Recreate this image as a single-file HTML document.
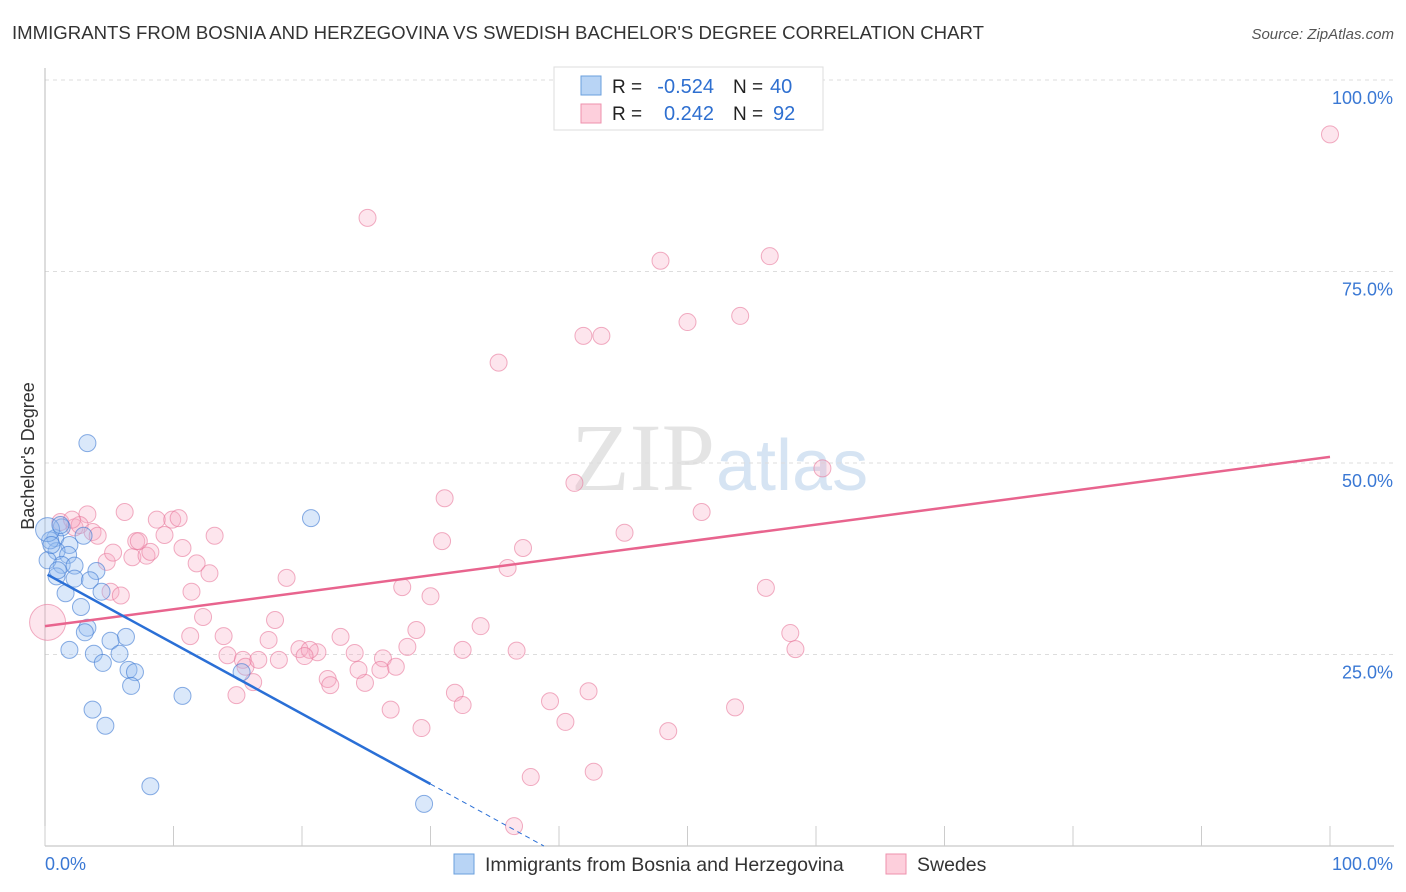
<!DOCTYPE html>
<html><head><meta charset="utf-8"><style>
body{margin:0;background:#fff;font-family:"Liberation Sans",sans-serif;}
#wrap{position:relative;width:1406px;height:892px;overflow:hidden;}
</style></head><body>
<div id="wrap">
<svg id="chart" width="1406" height="892" xmlns="http://www.w3.org/2000/svg">
<text x="12" y="39" font-size="18.6" fill="#333">IMMIGRANTS FROM BOSNIA AND HERZEGOVINA VS SWEDISH BACHELOR'S DEGREE CORRELATION CHART</text>
<text x="1394" y="39" font-size="15" fill="#555" font-style="italic" text-anchor="end">Source: ZipAtlas.com</text>
<text x="715" y="490" font-size="96" fill="#e4e4e4" font-family="Liberation Serif,serif" text-anchor="end">ZIP</text>
<text x="716" y="490" font-size="72" fill="#d6e4f3">atlas</text>
<g id="grid"></g>
<g id="axes"></g>
<g id="pts"></g>
<g id="lines"></g>
<text transform="translate(34,456) rotate(-90)" font-size="18" fill="#333" text-anchor="middle">Bachelor's Degree</text>
<g>
<rect x="554" y="67" width="269" height="63" fill="#fff" stroke="#ddd"/>
<rect x="581" y="76" width="20" height="19" fill="#b8d4f5" stroke="#6a9fdd"/>
<rect x="581" y="104" width="20" height="19" fill="#fdcfdc" stroke="#ee91ad"/>
<text x="612" y="93" font-size="19" fill="#222">R =</text>
<text x="714" y="93" font-size="20" fill="#2e6fd0" text-anchor="end">-0.524</text>
<text x="733" y="93" font-size="19" fill="#222">N =</text>
<text x="770" y="93" font-size="20" fill="#2e6fd0">40</text>
<text x="612" y="120" font-size="19" fill="#222">R =</text>
<text x="714" y="120" font-size="20" fill="#2e6fd0" text-anchor="end">0.242</text>
<text x="733" y="120" font-size="19" fill="#222">N =</text>
<text x="773" y="120" font-size="20" fill="#2e6fd0">92</text>
</g>
<g>
<rect x="454" y="854" width="20" height="20" fill="#b8d4f5" stroke="#6a9fdd"/>
<text x="485" y="871" font-size="19.5" fill="#333">Immigrants from Bosnia and Herzegovina</text>
<rect x="886" y="854" width="20" height="20" fill="#fdcfdc" stroke="#ee91ad"/>
<text x="917" y="871" font-size="19.5" fill="#333">Swedes</text>
</g>
</svg>
</div>
<script>
const yTicks=[25,50,75,100];
const yTickLabels=["25.0%","50.0%","75.0%","100.0%"];
const xTickCount=[0,10,20,30,40,50,60,70,80,90,100];
const blueX=[3.3,20.7,0.8,1.3,3.0,1.9,0.9,1.8,1.3,2.3,4.0,2.3,3.5,0.9,1.6,4.4,2.8,3.3,3.1,6.3,5.1,1.9,3.8,5.8,4.5,6.5,7.0,6.7,15.3,10.7,3.7,4.7,8.2,29.5,0.2,0.4,0.2,1.2,0.5,1.0];
const blueY=[52.6,42.8,40.2,41.6,40.5,39.3,38.5,38.0,36.7,36.6,35.9,34.9,34.7,35.2,33.0,33.2,31.2,28.5,27.9,27.3,26.8,25.6,25.1,25.1,23.9,23.0,22.7,20.9,22.7,19.6,17.8,15.7,7.8,5.5,37.3,39.9,41.3,41.9,39.3,36.0];
const pinkX=[100,25.1,47.9,56.4,41.9,43.3,50.0,54.1,35.3,60.5,31.1,41.2,51.1,45.1,30.9,37.2,36.0,56.1,27.8,30.0,33.9,28.9,28.2,36.7,58.0,58.4,32.5,18.8,17.9,23.0,17.4,19.8,21.2,20.6,20.2,22.0,22.2,24.1,24.9,26.3,27.3,26.1,24.4,26.9,31.9,32.5,39.3,42.3,40.5,29.3,48.5,53.7,37.8,42.7,36.5,1.2,2.3,3.3,2.7,2.1,3.7,4.1,4.8,5.3,6.2,7.1,6.8,7.9,7.3,8.2,8.7,9.3,9.9,10.4,10.7,11.4,11.8,12.8,12.3,11.3,13.2,13.9,14.2,15.4,15.6,16.2,14.9,16.6,18.2,0.2,5.1,5.9];
const pinkY=[92.9,82.0,76.4,77.0,66.6,66.6,68.4,69.2,63.1,49.3,45.4,47.4,43.6,40.9,39.8,38.9,36.3,33.7,33.8,32.6,28.7,28.2,26.0,25.5,27.8,25.7,25.6,35.0,29.5,27.3,26.9,25.7,25.3,25.6,24.8,21.8,21.0,25.2,21.3,24.5,23.4,23.0,23.0,17.8,20.0,18.4,18.9,20.2,16.2,15.4,15.0,18.1,9.0,9.7,2.6,42.3,41.6,43.3,41.9,42.6,41.0,40.5,37.1,38.3,43.6,39.8,37.7,37.9,39.8,38.4,42.6,40.6,42.6,42.8,38.9,33.2,36.9,35.6,29.9,27.4,40.5,27.4,24.9,24.3,23.4,21.4,19.7,24.3,24.3,29.2,33.2,32.7];
const pinkR=[];pinkR[89]=18;
const blueR=[];blueR[36]=12;
const blueTrend=[35.6,-0.917];
const pinkTrend=[28.7,0.221];
const X0=45,X1=1330,Y0=846,Y100=80;
function sx(v){return X0+(X1-X0)*v/100;}
function sy(v){return Y0-(Y0-Y100)*v/100;}
const NS="http://www.w3.org/2000/svg";
function mk(tag,attrs,parent){const e=document.createElementNS(NS,tag);for(const k in attrs)e.setAttribute(k,attrs[k]);parent.appendChild(e);return e;}
const grid=document.getElementById('grid'),axes=document.getElementById('axes'),pts=document.getElementById('pts'),lines=document.getElementById('lines');
yTicks.forEach((t,i)=>{
 const l=mk('line',{x1:X0,x2:1394,y1:sy(t),y2:sy(t),stroke:'#ddd','stroke-dasharray':'4,4'},grid);
 
 
 const tx=mk('text',{x:1393,y:sy(t)+24,'font-size':18,fill:'#3a78d4','text-anchor':'end'},axes);
 tx.textContent=yTickLabels[i];
 
 
});
const ya=mk('line',{x1:X0,x2:X0,y1:68,y2:846,stroke:'#bbb'},axes);


const xa=mk('line',{x1:X0,x2:1394,y1:846,y2:846,stroke:'#bbb'},axes);


xTickCount.forEach(t=>{
 const l=mk('line',{x1:sx(t),x2:sx(t),y1:826,y2:846,stroke:'#ccc'},axes);
 
 
});
const xl0=mk('text',{x:45,y:870,'font-size':18,fill:'#3a78d4'},axes);xl0.textContent='0.0%';


const xl1=mk('text',{x:1393,y:870,'font-size':18,fill:'#3a78d4','text-anchor':'end'},axes);xl1.textContent='100.0%';


pinkX.forEach((v,i)=>{
 const c=mk('circle',{cx:sx(v),cy:sy(pinkY[i]),r:pinkR[i]||8.5,fill:'rgba(248,170,195,0.3)',stroke:'rgba(232,120,155,0.6)','stroke-width':1},pts);
 
 
});
blueX.forEach((v,i)=>{
 const c=mk('circle',{cx:sx(v),cy:sy(blueY[i]),r:blueR[i]||8.5,fill:'rgba(150,190,240,0.35)',stroke:'rgba(60,120,210,0.6)','stroke-width':1},pts);
 
 
});
const pl=mk('line',{x1:sx(0),y1:sy(pinkTrend[0]),x2:sx(100),y2:sy(pinkTrend[0]+pinkTrend[1]*100),stroke:'#e8648e','stroke-width':2.5},lines);


const bEnd=30,bZero=-blueTrend[0]/blueTrend[1];
const bl=mk('line',{x1:sx(0.2),y1:sy(blueTrend[0]+blueTrend[1]*0.2),x2:sx(bEnd),y2:sy(blueTrend[0]+blueTrend[1]*bEnd),stroke:'#2a6fd6','stroke-width':2.5},lines);


const bd=mk('line',{x1:sx(bEnd),y1:sy(blueTrend[0]+blueTrend[1]*bEnd),x2:sx(bZero),y2:sy(0),stroke:'#2a6fd6','stroke-width':1,'stroke-dasharray':'5,4'},lines);


</script>
</body></html>
